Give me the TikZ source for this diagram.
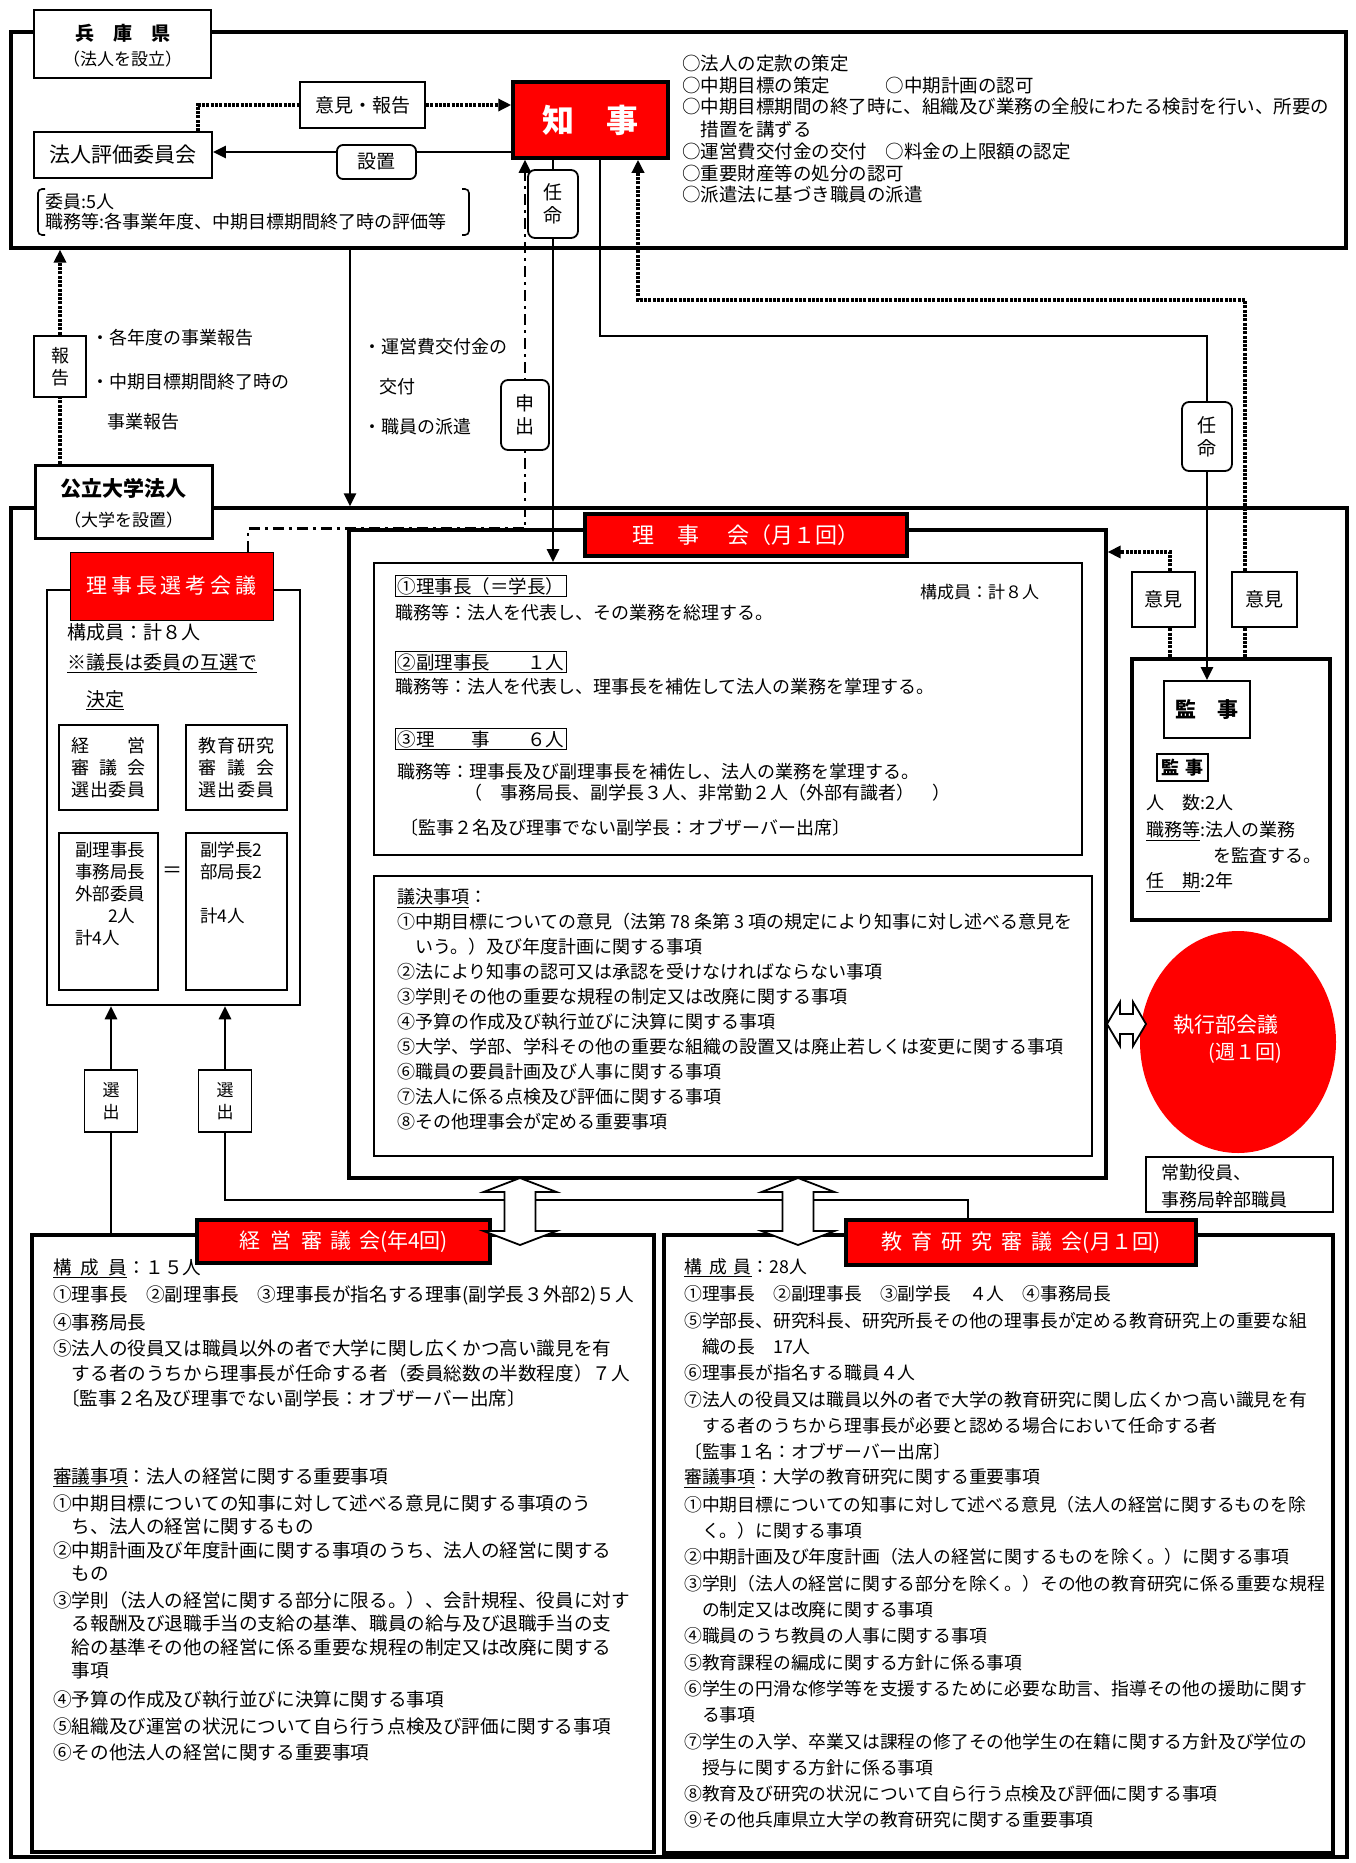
\documentclass[tikz,border=0pt]{standalone}
\usepackage{fontspec}
\setmainfont{Noto Sans CJK JP}
\usetikzlibrary{arrows.meta,shapes.geometric}
\pgfdeclarelayer{back}\pgfdeclarelayer{bg}\pgfsetlayers{back,bg,main}
\newcommand\jfs[1]{\fontsize{#1}{#1}\selectfont}
\newcommand\jfss[2]{\fontsize{#1}{#2}\selectfont}
\newcount\jlc
\newcommand\jline[4][18]{\global\advance\jlc by 1\relax\node[txt,font=\jfs{#1}] (t\the\jlc) at (#2,#3) {#4};}
\newcommand\jcen[4][18]{\global\advance\jlc by 1\relax\node[inner sep=0pt,font=\jfs{#1}] (t\the\jlc) at (#2,#3) {#4};}
\newcommand\vdarr[3]{\draw[line width=1.8pt,fill=white] (#1,#2) -- ({#1+36.5},{#2+14}) -- ({#1+15.5},{#2+14}) -- ({#1+15.5},{#3-14}) -- ({#1+36.5},{#3-14}) -- (#1,#3) -- ({#1-36.5},{#3-14}) -- ({#1-15.5},{#3-14}) -- ({#1-15.5},{#2+14}) -- ({#1-36.5},{#2+14}) -- cycle;}
\begin{document}
\begin{tikzpicture}[x=1pt,y=-1pt,
  txt/.style={anchor=west,inner sep=0pt},
  bx/.style={draw,fill=white,inner sep=0pt,line width=1.8pt},
  frm/.style={draw,inner sep=0pt,line width=3.2pt},
  rbx/.style={draw=black,fill=red,text=white,inner sep=0pt,line width=3.5pt},
  lab/.style={draw,inner sep=2pt,line width=1.3pt,anchor=west},
  arr/.style={line width=2.6pt,-{Triangle[length=13pt,width=12pt]}},
  dotl/.style={line width=3.3pt,dash pattern=on 3pt off 1.3pt},
  dotarr/.style={dotl,-{Triangle[length=13pt,width=12pt]}},
  ddot/.style={line width=2.8pt,dash pattern=on 11pt off 5pt on 3pt off 5pt,-{Triangle[length=13pt,width=12pt]}},
]
\begin{pgfonlayer}{back}
\fill[white] (0,0) rectangle (1355,1863);
\end{pgfonlayer}
\useasboundingbox (0,0) rectangle (1355,1863);

% frames
\node[frm,minimum width=1335pt,minimum height=216pt] (topbox) at (678.5,140) {};
\node[frm,minimum width=1336pt,minimum height=1349pt] (koritsuF) at (679,1182.5) {};
\node[frm,minimum width=757pt,minimum height=648pt] (rijikaiO) at (727.5,854) {};
\node[frm,line width=2pt,minimum width=708pt,minimum height=292pt] (inner1) at (728,709) {};
\node[frm,line width=2pt,minimum width=718pt,minimum height=280pt] (giketsu) at (733,1016) {};
\node[frm,line width=2.5pt,minimum width=253pt,minimum height=415pt] (senkoBox) at (173.5,797.5) {};
\node[frm,minimum width=198pt,minimum height=261pt] (kanjiO) at (1231,789.5) {};
\node[frm,minimum width=622pt,minimum height=617pt] (keieiBox) at (343,1543.5) {};
\node[frm,minimum width=669pt,minimum height=618pt] (kyoikuBox) at (998.5,1544) {};

\coordinate (xun) at (350,0);
\coordinate (xsc) at (248,0);
\coordinate (xn2) at (600,0);
\coordinate (xd3) at (638,0);
\coordinate (xd1) at (1170,0);
\coordinate (xd2) at (1245,0);
\coordinate (xk) at (968,0);

% boxes
\node[bx,line width=1.5pt,minimum width=177pt,minimum height=68pt] (hyogo) at (122.5,44) {};
\node[bx,minimum width=125pt,minimum height=46pt,font=\jfs{19}] (ikenhokoku) at (362.5,105) {意見・報告};
\node[bx,minimum width=178pt,minimum height=46pt,font=\jfs{21}] (hyoka) at (123,155) {法人評価委員会};
\node[rbx,minimum width=155pt,minimum height=76pt,font=\jfs{32}\bfseries] (chiji) at (590.5,120) {知　事};
\node[bx,rounded corners=6pt,minimum width=79pt,minimum height=34pt,font=\jfs{19}] (setchi) at (376.5,162) {設置};
\node[bx,rounded corners=7pt,minimum width=50pt,minimum height=68pt,align=center,font=\jfss{19}{23}] (ninmei1) at (553,204) {任\\命};
\node[bx,minimum width=52pt,minimum height=61pt,align=center,font=\jfss{18}{22}] (hokoku) at (60,366.5) {報\\告};
\node[bx,rounded corners=7pt,minimum width=48pt,minimum height=70pt,align=center,font=\jfss{19}{23}] (moushide) at (525,415) {申\\出};
\node[bx,line width=3pt,minimum width=177pt,minimum height=73pt] (koritsu) at (123.5,501.5) {};
\node[bx,rounded corners=7pt,minimum width=50pt,minimum height=69pt,align=center,font=\jfss{19}{23}] (ninmei2) at (1207,436.5) {任\\命};
\node[bx,line width=2.5pt,minimum width=63pt,minimum height=55pt,font=\jfs{19}] (iken1) at (1163.5,599.5) {意見};
\node[bx,line width=2.5pt,minimum width=65pt,minimum height=55pt,font=\jfs{19}] (iken2) at (1264.5,599.5) {意見};
\node[bx,minimum width=86pt,minimum height=57pt,font=\jfs{21}\bfseries] (kanjiIn) at (1207,709.5) {監　事};
\node[bx,line width=1.5pt,minimum width=51pt,minimum height=27pt,font=\jfs{18}\bfseries] (kanjiLab) at (1182.5,767.5) {監\hspace{6pt}事};
\node[rbx,minimum width=322pt,minimum height=42pt,font=\jfs{22}] (rijikaiRed) at (746,535) {理\hspace{24pt}事\hspace{28pt}会（月１回）};
\node[rbx,line width=1pt,minimum width=203pt,minimum height=68pt,font=\jfs{21}] (senkoRed) at (171.5,586) {\makebox[170pt]{理\hfill 事\hfill 長\hfill 選\hfill 考\hfill 会\hfill 議}};
\node[bx,minimum width=99pt,minimum height=85pt] (sb1) at (108.5,767.5) {};
\node[bx,minimum width=101pt,minimum height=85pt] (sb2) at (236.5,767.5) {};
\node[bx,minimum width=99pt,minimum height=157pt] (sb3) at (108.5,911.5) {};
\node[bx,minimum width=101pt,minimum height=157pt] (sb4) at (236.5,911.5) {};
\node[ellipse,fill=red,inner sep=0pt,minimum width=196pt,minimum height=222pt] (shikko) at (1238,1042) {};
\node[bx,minimum width=187pt,minimum height=55pt] (joukin) at (1239.5,1184.5) {};
\node[bx,minimum width=53pt,minimum height=62pt,align=center,font=\jfss{17}{22}] (sen1) at (111,1101) {選\\出};
\node[bx,minimum width=53pt,minimum height=62pt,align=center,font=\jfss{17}{22}] (sen2) at (225,1101) {選\\出};
\node[rbx,minimum width=293pt,minimum height=43pt,font=\jfs{21}] (keieiRed) at (343.5,1241.5) {経\hspace{10pt}営\hspace{10pt}審\hspace{8pt}議\hspace{8pt}会(年4回)};
\node[rbx,minimum width=350pt,minimum height=45pt,font=\jfs{21}] (kyoikuRed) at (1021,1242.5) {教\hspace{9pt}育\hspace{9pt}研\hspace{9pt}究\hspace{9pt}審\hspace{9pt}議\hspace{9pt}会(月１回)};

% connectors
\begin{pgfonlayer}{bg}
\draw[dotl] ([xshift=75pt]hyoka.north) |- (ikenhokoku.west);
\draw[dotarr] (ikenhokoku.east) -- (ikenhokoku.east -| chiji.west);
\draw[arr] ([yshift=-32pt]chiji.west) -- ([yshift=-32pt]chiji.west -| hyoka.east);
\draw[ddot] (senkoRed.north -| xsc) -- (xsc |- rijikaiO.north) -- (moushide |- rijikaiO.north) -- (chiji.south -| moushide);
\draw[arr] (chiji.south -| ninmei1) -- (inner1.north -| ninmei1);
\draw[arr] (chiji.south -| xn2) -- (xn2 |- 0,336) -| (kanjiIn.north);
\draw[dotarr] (iken2.north -| xd2) |- (xd3 |- 0,300) -- (chiji.south -| xd3);
\draw[dotarr] (iken1.north -| xd1) |- (rijikaiO.east |- 0,552);
\draw[dotl] (iken1.south -| xd1) -- (kanjiO.north -| xd1);
\draw[dotl] (iken2.south -| xd2) -- (kanjiO.north -| xd2);
\draw[dotarr] (koritsu.north -| hokoku) -- (topbox.south -| hokoku);
\draw[arr] (topbox.south -| xun) -- (koritsuF.north -| xun);
\draw[arr] (keieiBox.north -| sen1) -- (senkoBox.south -| sen1);
\draw[arr] (kyoikuRed.north -| xk) |- (sen2 |- 0,1200) -- (senkoBox.south -| sen2);
\end{pgfonlayer}

% hollow double arrows
\vdarr{520}{1178}{1245}
\vdarr{798}{1178}{1245}
\draw[line width=1.8pt,fill=white] (1107,1024) -- (1120,1002) -- (1120,1014) -- (1133,1014) -- (1133,1002) -- (1146,1024) -- (1133,1046) -- (1133,1034) -- (1120,1034) -- (1120,1046) -- cycle;

% brackets
\draw[line width=1.6pt,rounded corners=4pt] (45,189) -- (38,189) -- (38,235) -- (45,235);
\draw[line width=1.6pt,rounded corners=4pt] (462,189) -- (469,189) -- (469,235) -- (462,235);

% top texts
\jcen[19]{122.5}{33}{\bfseries 兵　庫　県}
\jcen[17]{122.5}{59}{（法人を設立）}
\jline[18.5]{682}{63}{○法人の定款の策定}
\jline[18.5]{682}{85}{○中期目標の策定　　　○中期計画の認可}
\jline[18.5]{682}{107}{○中期目標期間の終了時に、組織及び業務の全般にわたる検討を行い、所要の}
\jline[18.5]{682}{129}{　措置を講ずる}
\jline[18.5]{682}{151}{○運営費交付金の交付　○料金の上限額の認定}
\jline[18.5]{682}{173}{○重要財産等の処分の認可}
\jline[18.5]{682}{195}{○派遣法に基づき職員の派遣}
\jline[18]{45}{202}{委員:5人}
\jline[18]{45}{222}{職務等:各事業年度、中期目標期間終了時の評価等}

% middle texts
\jline[18]{91}{338}{・各年度の事業報告}
\jline[18]{91}{382}{・中期目標期間終了時の}
\jline[18]{107}{422}{事業報告}
\jline[18]{363}{347}{・運営費交付金の}
\jline[18]{379}{387}{交付}
\jline[18]{363}{427}{・職員の派遣}

% koritsu
\jcen[21]{123.5}{489}{\bfseries 公立大学法人}
\jcen[17]{123.5}{520}{（大学を設置）}

% senko
\jline[19]{67}{632}{構成員：計８人}
\jline[19]{67}{663}{\underline{※議長は委員の互選で}}
\jline[19]{86}{700}{\underline{決定}}
\jcen[18]{108.5}{746}{\makebox[74pt]{経\hfill 営}}
\jcen[18]{108.5}{768}{\makebox[74pt]{審\hfill 議\hfill 会}}
\jcen[18]{108.5}{790}{\makebox[74pt]{選\hfill 出\hfill 委\hfill 員}}
\jcen[18]{236.5}{746}{\makebox[76pt]{教\hfill 育\hfill 研\hfill 究}}
\jcen[18]{236.5}{768}{\makebox[76pt]{審\hfill 議\hfill 会}}
\jcen[18]{236.5}{790}{\makebox[76pt]{選\hfill 出\hfill 委\hfill 員}}
\jline[17.5]{75}{850}{副理事長}
\jline[17.5]{75}{872}{事務局長}
\jline[17.5]{75}{894}{外部委員}
\jline[17.5]{108}{916}{2人}
\jline[17.5]{75}{938}{計4人}
\jline[17.5]{200}{850}{副学長2}
\jline[17.5]{200}{872}{部局長2}
\jline[17.5]{200}{916}{計4人}
\jcen[20]{172}{872}{＝}

% rijikai members
\node[lab,font=\jfs{18.5}] (r1) at (395,586) {①理事長（＝学長）};
\jline[17]{920}{592}{構成員：計８人}
\jline[18]{395}{613}{職務等：法人を代表し、その業務を総理する。}
\node[lab,font=\jfs{18.5}] (r2) at (395,662) {②副理事長　　１人};
\jline[18]{395}{687}{職務等：法人を代表し、理事長を補佐して法人の業務を掌理する。}
\node[lab,font=\jfs{18.5}] (r3) at (395,739) {③理　　事　　６人};
\jline[18]{397}{772}{職務等：理事長及び副理事長を補佐し、法人の業務を掌理する。}
\jline[18]{464}{793}{（　事務局長、副学長３人、非常勤２人（外部有識者）　）}
\jline[18]{400}{828}{〔監事２名及び理事でない副学長：オブザーバー出席〕}

% giketsu
\jline[18]{397}{898}{\underline{議決事項}：}
\jline[18]{397}{922}{①中期目標についての意見（法第 78 条第 3 項の規定により知事に対し述べる意見を}
\jline[18]{397}{947}{　いう。）及び年度計画に関する事項}
\jline[18]{397}{972}{②法により知事の認可又は承認を受けなければならない事項}
\jline[18]{397}{997}{③学則その他の重要な規程の制定又は改廃に関する事項}
\jline[18]{397}{1022}{④予算の作成及び執行並びに決算に関する事項}
\jline[18]{397}{1047}{⑤大学、学部、学科その他の重要な組織の設置又は廃止若しくは変更に関する事項}
\jline[18]{397}{1072}{⑥職員の要員計画及び人事に関する事項}
\jline[18]{397}{1097}{⑦法人に係る点検及び評価に関する事項}
\jline[18]{397}{1122}{⑧その他理事会が定める重要事項}

% kanji
\jline[18]{1146}{803}{人　数:2人}
\jline[18]{1146}{831}{\underline{職務等}:法人の業務}
\jline[18]{1213}{855}{を監査する。}
\jline[18]{1146}{882}{\underline{任　期}:2年}

% shikko
\jcen[21]{1226}{1025}{\color{white}執行部会議}
\jcen[20]{1245}{1053}{\color{white}(週１回)}
\jline[18]{1161}{1173}{常勤役員、}
\jline[18]{1161}{1200}{事務局幹部職員}

% keiei
\jline[18.6]{53}{1268}{\underline{構\hspace{9pt}成\hspace{9pt}員}：１５人}
\jline[18.6]{53}{1295}{①理事長　②副理事長　③理事長が指名する理事(副学長３外部2)５人}
\jline[18.6]{53}{1322}{④事務局長}
\jline[18.6]{53}{1348}{⑤法人の役員又は職員以外の者で大学に関し広くかつ高い識見を有}
\jline[18.6]{53}{1373}{　する者のうちから理事長が任命する者（委員総数の半数程度）７人}
\jline[18.6]{61}{1398}{〔監事２名及び理事でない副学長：オブザーバー出席〕}
\jline[18.6]{53}{1477}{\underline{審議事項}：法人の経営に関する重要事項}
\jline[18.6]{53}{1503}{①中期目標についての知事に対して述べる意見に関する事項のう}
\jline[18.6]{53}{1526}{　ち、法人の経営に関するもの}
\jline[18.6]{53}{1550}{②中期計画及び年度計画に関する事項のうち、法人の経営に関する}
\jline[18.6]{53}{1574}{　もの}
\jline[18.6]{53}{1600}{③学則（法人の経営に関する部分に限る。）、会計規程、役員に対す}
\jline[18.6]{53}{1623}{　る報酬及び退職手当の支給の基準、職員の給与及び退職手当の支}
\jline[18.6]{53}{1647}{　給の基準その他の経営に係る重要な規程の制定又は改廃に関する}
\jline[18.6]{53}{1670}{　事項}
\jline[18.6]{53}{1700}{④予算の作成及び執行並びに決算に関する事項}
\jline[18.6]{53}{1726}{⑤組織及び運営の状況について自ら行う点検及び評価に関する事項}
\jline[18.6]{53}{1752}{⑥その他法人の経営に関する重要事項}

% kyoiku
\jline[17.8]{684}{1268}{\underline{構\hspace{7pt}成\hspace{7pt}員}：28人}
\jline[17.8]{684}{1294}{①理事長　②副理事長　③副学長　４人　④事務局長}
\jline[17.8]{684}{1321}{⑤学部長、研究科長、研究所長その他の理事長が定める教育研究上の重要な組}
\jline[17.8]{684}{1347}{　織の長　17人}
\jline[17.8]{684}{1373}{⑥理事長が指名する職員４人}
\jline[17.8]{684}{1400}{⑦法人の役員又は職員以外の者で大学の教育研究に関し広くかつ高い識見を有}
\jline[17.8]{684}{1426}{　する者のうちから理事長が必要と認める場合において任命する者}
\jline[17.8]{684}{1452}{〔監事１名：オブザーバー出席〕}
\jline[17.8]{684}{1478}{\underline{審議事項}：大学の教育研究に関する重要事項}
\jline[17.8]{684}{1505}{①中期目標についての知事に対して述べる意見（法人の経営に関するものを除}
\jline[17.8]{684}{1531}{　く。）に関する事項}
\jline[17.8]{684}{1557}{②中期計画及び年度計画（法人の経営に関するものを除く。）に関する事項}
\jline[17.8]{684}{1584}{③学則（法人の経営に関する部分を除く。）その他の教育研究に係る重要な規程}
\jline[17.8]{684}{1610}{　の制定又は改廃に関する事項}
\jline[17.8]{684}{1636}{④職員のうち教員の人事に関する事項}
\jline[17.8]{684}{1663}{⑤教育課程の編成に関する方針に係る事項}
\jline[17.8]{684}{1689}{⑥学生の円滑な修学等を支援するために必要な助言、指導その他の援助に関す}
\jline[17.8]{684}{1715}{　る事項}
\jline[17.8]{684}{1742}{⑦学生の入学、卒業又は課程の修了その他学生の在籍に関する方針及び学位の}
\jline[17.8]{684}{1768}{　授与に関する方針に係る事項}
\jline[17.8]{684}{1794}{⑧教育及び研究の状況について自ら行う点検及び評価に関する事項}
\jline[17.8]{684}{1820}{⑨その他兵庫県立大学の教育研究に関する重要事項}
\end{tikzpicture}
\end{document}
